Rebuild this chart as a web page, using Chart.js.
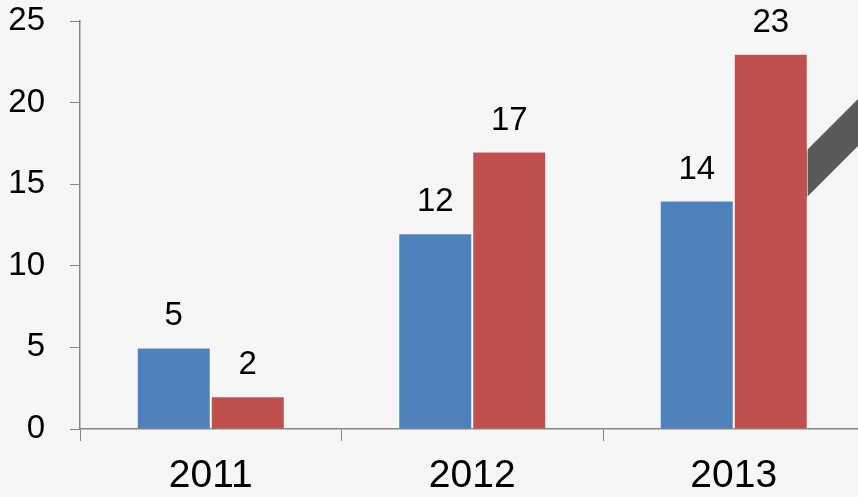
<!DOCTYPE html>
<html>
<head>
<meta charset="utf-8">
<script src="https://cdn.jsdelivr.net/npm/chart.js@4/dist/chart.umd.min.js"></script>
<style>
  html, body { margin: 0; padding: 0; overflow: hidden; background: #f6f6f6; }
  #wrap { position: absolute; left: 0; top: 0; width: 880px; height: 497px; }
</style>
</head>
<body>
<div id="wrap"><canvas id="chart" width="880" height="497"></canvas></div>
<script>
const years = ['2011', '2012', '2013'];
const blueValues = [5, 12, 14];
const redValues = [2, 17, 23];
const yMin = 0, yMax = 25, yStep = 5;

const axisGrey = '#868686';
const fontFam = '"Liberation Sans", Arial, sans-serif';

// background + the dark ribbon behind the bars
const backdrop = {
    id: 'backdrop',
    beforeDraw(chart) {
        const ctx = chart.ctx;
        ctx.save();
        ctx.fillStyle = '#f6f6f6';
        ctx.fillRect(0, 0, chart.width, chart.height);
        ctx.restore();
    },
    beforeDatasetsDraw(chart) {
        const ctx = chart.ctx;
        ctx.save();
        ctx.fillStyle = '#595959';
        ctx.beginPath();
        ctx.moveTo(800, 157);
        ctx.lineTo(880, 77);
        ctx.lineTo(880, 124);
        ctx.lineTo(800, 204);
        ctx.closePath();
        ctx.fill();
        ctx.restore();
    }
};

// value labels above each bar
const valueLabels = {
    id: 'valueLabels',
    afterDatasetsDraw(chart) {
        const ctx = chart.ctx;
        ctx.save();
        ctx.font = '33px ' + fontFam;
        ctx.fillStyle = '#000';
        ctx.textAlign = 'center';
        ctx.textBaseline = 'alphabetic';
        chart.data.datasets.forEach((ds, i) => {
            chart.getDatasetMeta(i).data.forEach((bar, j) => {
                ctx.fillText(String(ds.data[j]), bar.x, bar.y - 22);
            });
        });
        ctx.restore();
    }
};

new Chart(document.getElementById('chart').getContext('2d'), {
    type: 'bar',
    data: {
        labels: years,
        datasets: [
            { data: blueValues, backgroundColor: '#4f81bd', borderColor: '#ffffff', borderWidth: 1 },
            { data: redValues, backgroundColor: '#c0504d', borderColor: '#ffffff', borderWidth: 1 }
        ]
    },
    options: {
        responsive: false,
        animation: false,
        layout: { padding: { top: 0, right: 15.5, left: 0, bottom: 0 } },
        datasets: { bar: { barPercentage: 1, categoryPercentage: 0.566 } },
        plugins: { legend: { display: false }, tooltip: { enabled: false } },
        scales: {
            x: {
                grid: { drawOnChartArea: false, drawTicks: true, tickLength: 12, color: axisGrey, offset: true },
                border: { color: axisGrey, width: 1.5 },
                ticks: { color: '#000', font: { family: fontFam, size: 39 }, padding: 12 },
                afterFit(scale) { scale.height = 68; }
            },
            y: {
                min: yMin,
                max: yMax,
                ticks: { stepSize: yStep, color: '#000', font: { family: fontFam, size: 33 }, padding: 25 },
                grid: { drawOnChartArea: false, drawTicks: true, tickLength: 10, color: axisGrey },
                border: { color: axisGrey, width: 1.5 },
                afterFit(scale) {
                    scale.width = 80;
                    scale.paddingTop = 21;
                    scale.paddingBottom = 0;
                }
            }
        }
    },
    plugins: [backdrop, valueLabels]
});
</script>
</body>
</html>
